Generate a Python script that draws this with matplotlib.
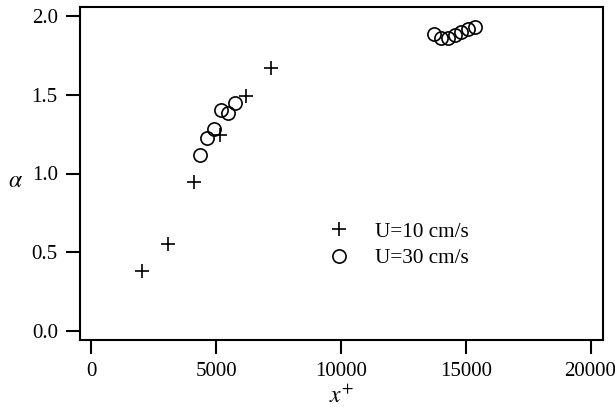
import matplotlib
matplotlib.use('Agg')
import matplotlib.pyplot as plt

plt.rcParams['font.family'] = 'Liberation Serif'
plt.rcParams['mathtext.fontset'] = 'stix'

# U=10 cm/s (plus markers)
x_u10 = [2040, 3090, 4120, 5160, 6190, 7210]
a_u10 = [0.38, 0.55, 0.945, 1.245, 1.495, 1.67]

# U=30 cm/s (open circles)
x_u30 = [4370, 4640, 4910, 5190, 5470, 5750,
         13720, 14030, 14290, 14560, 14830, 15090, 15360]
a_u30 = [1.115, 1.225, 1.285, 1.40, 1.385, 1.45,
         1.885, 1.86, 1.862, 1.88, 1.90, 1.915, 1.93]

xticks = [0, 5000, 10000, 15000, 20000]
yticks = [0.0, 0.5, 1.0, 1.5, 2.0]

fig = plt.figure(figsize=(6.15, 4.09), dpi=100)
ax = fig.add_axes([80/615, 1 - 340/409, 523/615, 333/409])

ax.plot(x_u10, a_u10, 'k+', markersize=10.5, markeredgewidth=1.2, label='U=10 cm/s')
ax.plot(x_u30, a_u30, 'o', markerfacecolor='none', markeredgecolor='k',
        markersize=9.5, markeredgewidth=1.2, label='U=30 cm/s')

ax.set_xlim(-450, 20500)
ax.set_ylim(-0.057, 2.057)
ax.set_xticks(xticks)
ax.set_yticks(yticks)
ax.set_xticklabels([str(v) for v in xticks])
ax.set_yticklabels(['%.1f' % v for v in yticks])
ax.tick_params(direction='out', length=10, width=1.5, labelsize=15, pad=6)
for s in ax.spines.values():
    s.set_linewidth(1.5)

ax.set_xlabel('$x^{+}$', fontsize=17, labelpad=3)
ax.set_ylabel(r'$\alpha$', fontsize=17, rotation=0, va='center', ha='center')
ax.yaxis.set_label_coords(-0.124, 0.475)

ax.legend(loc='center', bbox_to_anchor=(0.607, 0.285), frameon=False,
          fontsize=15.3, handletextpad=1.1, labelspacing=0.3, handlelength=1.2)

fig.savefig('out.png', dpi=100)
